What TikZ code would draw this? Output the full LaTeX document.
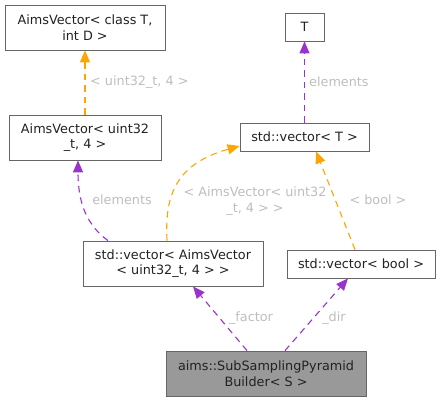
\documentclass[tikz,border=0pt]{standalone}
\usepackage{fontspec}
\setmainfont{DejaVu Sans}
\usetikzlibrary{arrows.meta}
\definecolor{edgeorange}{HTML}{FFA500}
\definecolor{edgepurple}{HTML}{9A32CD}
\definecolor{lblgray}{HTML}{BEBEBE}
\definecolor{boxgray}{HTML}{666666}
\definecolor{mainfill}{HTML}{999999}
\definecolor{txtdark}{HTML}{222222}
\tikzset{
  cls/.style={draw=boxgray, fill=white, line width=0.8pt, align=center, inner sep=0pt,
    font=\fontsize{12.8}{15.5}\selectfont, text=txtdark},
  mainbox/.style={cls, fill=mainfill},
  rel/.style={dash pattern=on 6.5pt off 5pt, line width=1.1pt, -{Triangle[length=12pt,width=10pt]}},
  orel/.style={rel, draw=edgeorange},
  prel/.style={rel, draw=edgepurple},
  lbl/.style={font=\fontsize{12.8}{15.5}\selectfont, text=lblgray, align=center, inner sep=0pt}
}
\begin{document}
\begin{tikzpicture}[x=1pt,y=-1pt]
\useasboundingbox (0,0) rectangle (441,401);
\node[cls, minimum width=160pt, minimum height=45pt] (A) at (85,27.5) {AimsVector< class T,\\int D >};
\node[cls, minimum width=152pt, minimum height=45pt] (B) at (85,137.5) {AimsVector< uint32\\\_t, 4 >};
\node[cls, minimum width=39pt, minimum height=28pt] (T) at (304.5,27) {T};
\node[cls, minimum width=129pt, minimum height=28pt] (VT) at (304.5,137) {std::vector< T >};
\node[cls, minimum width=180pt, minimum height=45pt] (VA) at (173,263.5) {std::vector< AimsVector\\< uint32\_t, 4 > >};
\node[cls, minimum width=148pt, minimum height=28pt] (VB) at (361,264) {std::vector< bool >};
\node[mainbox, minimum width=200pt, minimum height=45pt] (P) at (266,373.5) {aims::SubSamplingPyramid\\Builder< S >};

\draw[orel] (B.north) -- (A.south);
\node[lbl, anchor=west] (l1) at (90,82) {< uint32\_t, 4 >};

\draw[prel] (VT.north) -- (T.south);
\node[lbl, anchor=west] (l2) at (309,82) {elements};

\draw[prel] ([xshift=-65pt]VA.north) .. controls (88,226) and (78,205) .. ([xshift=-7pt]B.south);
\node[lbl] (l3) at (122,200) {elements};

\draw[orel] ([xshift=-6pt]VA.north) .. controls (165,200) and (172,165) .. ([yshift=-9pt]VT.west);
\node[lbl] (l4) at (255,201) {< AimsVector< uint32\\\_t, 4 > >};

\draw[orel] ([xshift=-6pt]VB.north) -- ([xshift=11.5pt]VT.south);
\node[lbl] (l5) at (378,200) {< bool >};

\draw[prel] ([xshift=-19pt]P.north) -- ([xshift=20pt]VA.south);
\node[lbl] (l6) at (251,318) {\_factor};

\draw[prel] ([xshift=19pt]P.north) -- ([xshift=-13pt]VB.south);
\node[lbl] (l7) at (334,318) {\_dir};
\end{tikzpicture}
\end{document}
